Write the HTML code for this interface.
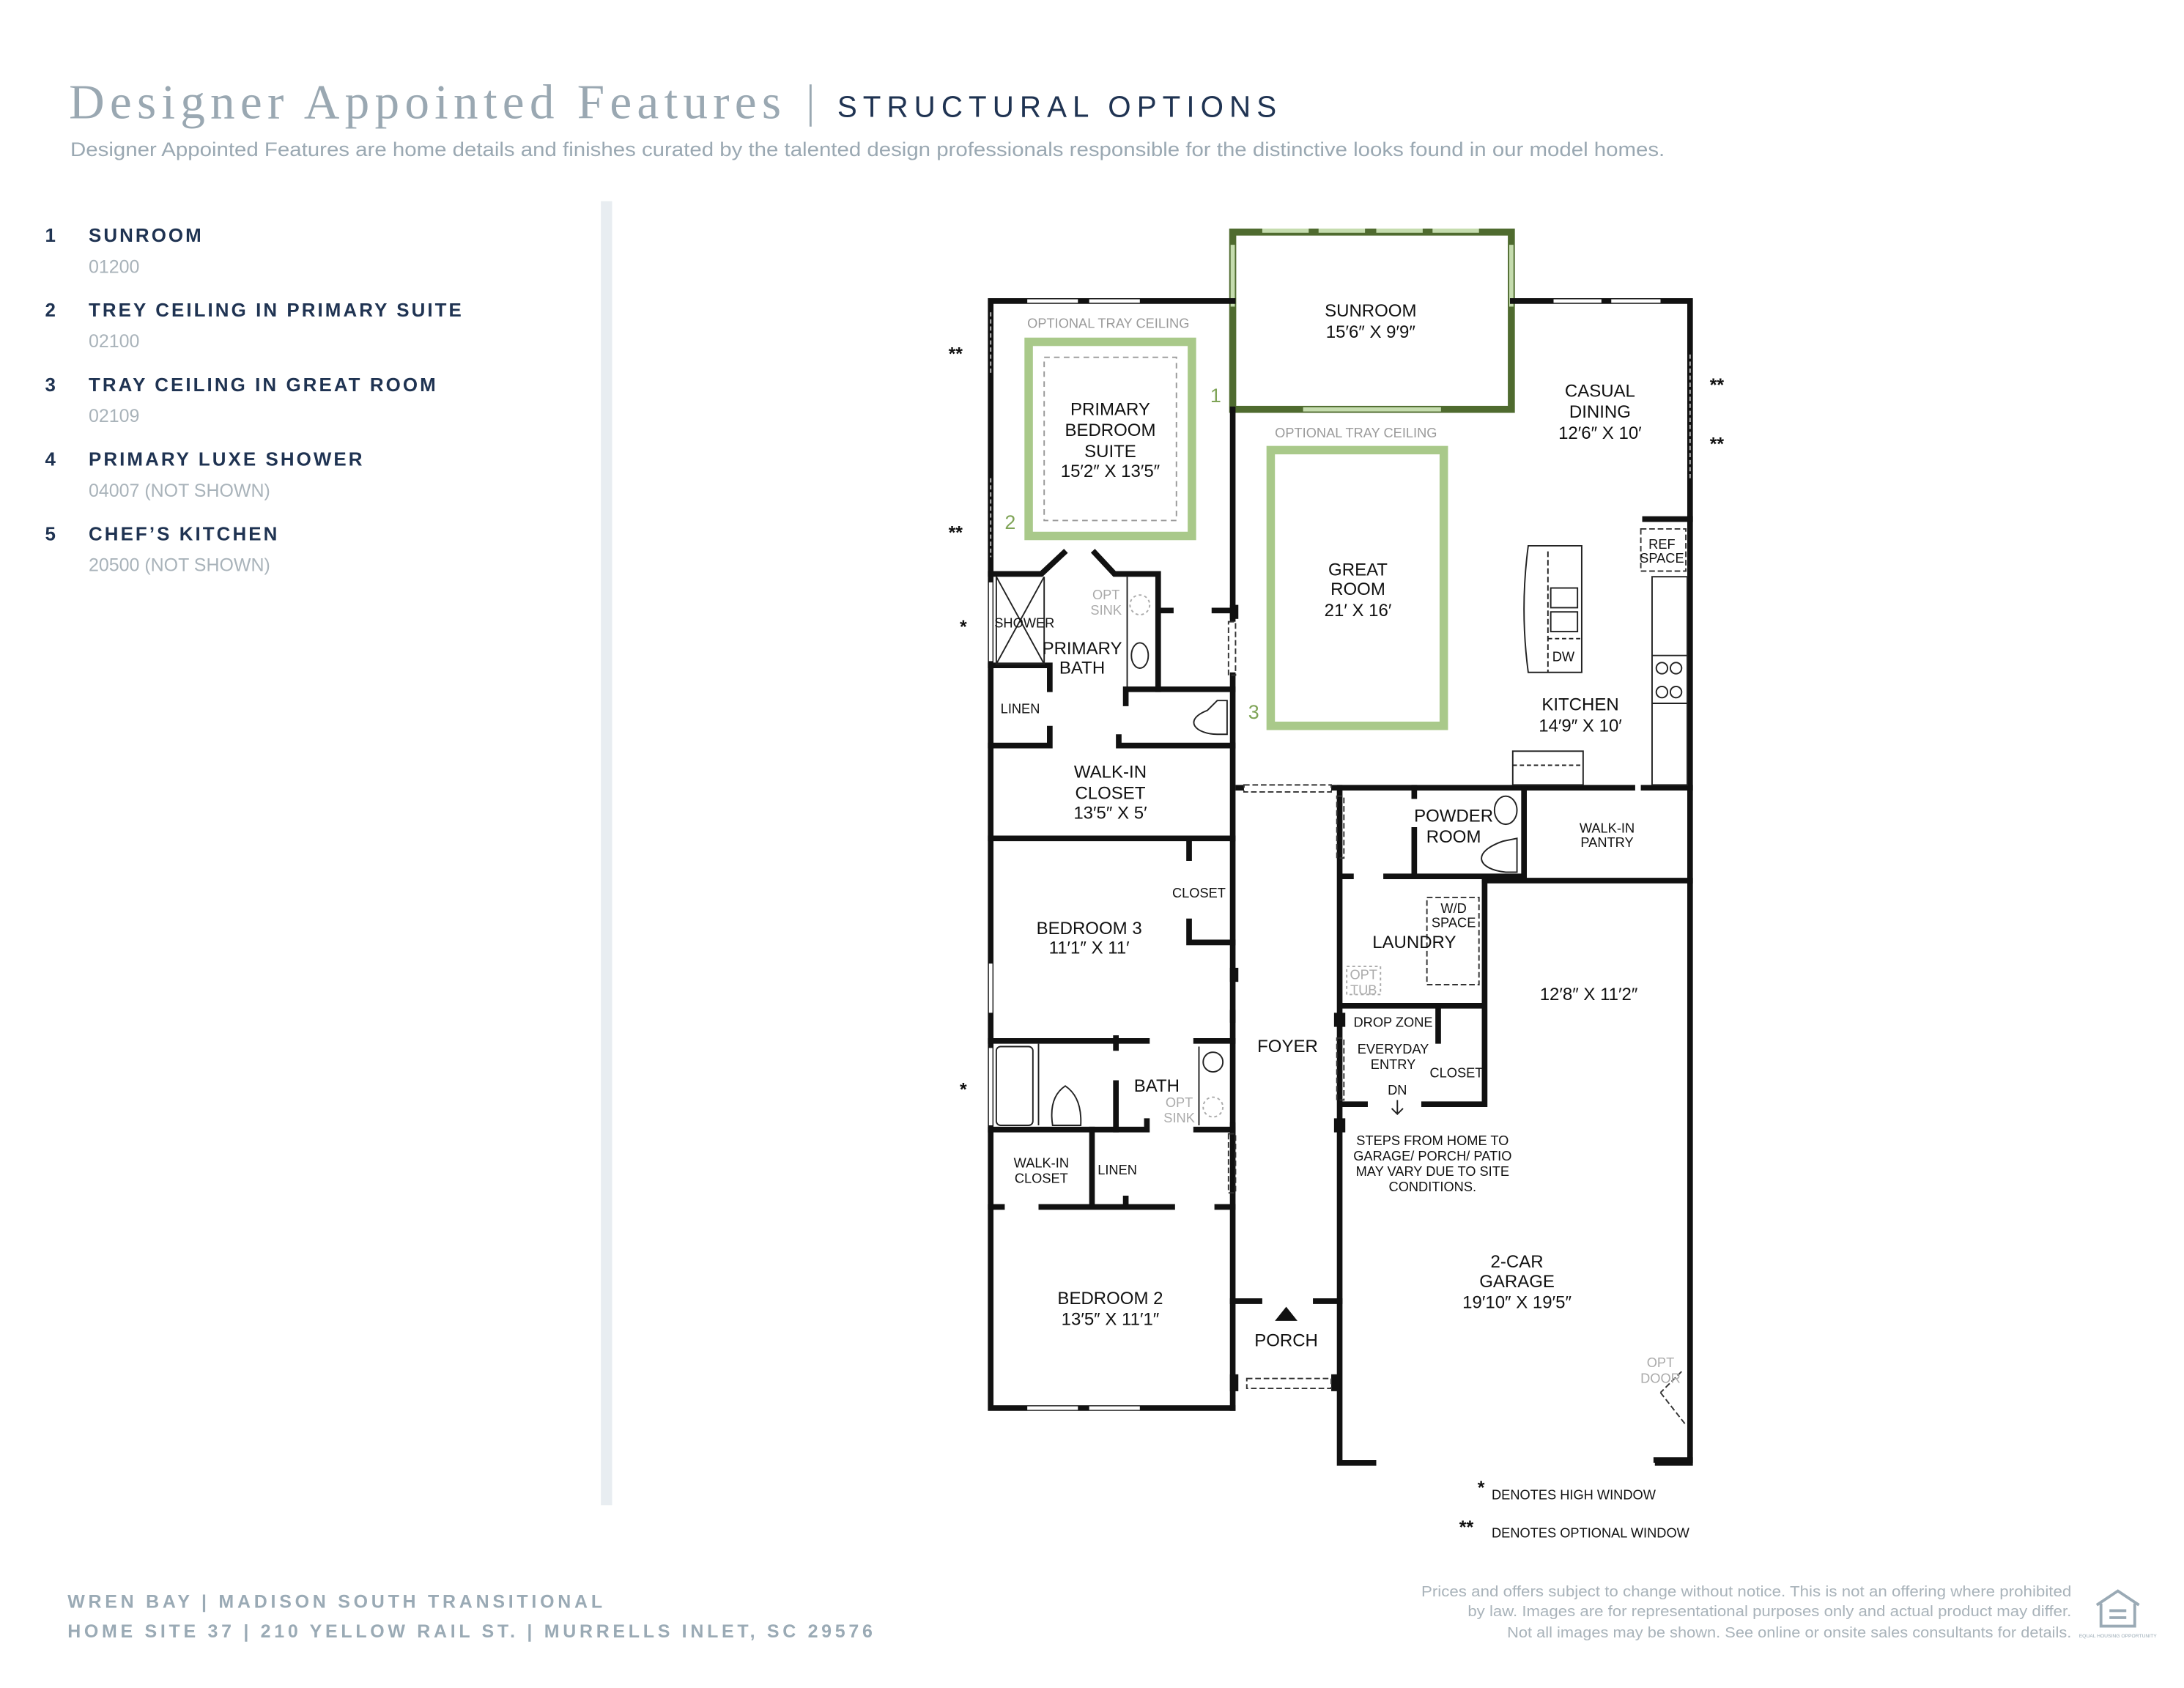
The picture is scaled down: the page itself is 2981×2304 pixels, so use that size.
<!DOCTYPE html>
<html><head><meta charset="utf-8"><style>
html,body{margin:0;padding:0;background:#fff;}
svg{display:block;}
</style></head><body>
<svg width="2981" height="2304" viewBox="0 0 1552 1200" preserveAspectRatio="none" xmlns="http://www.w3.org/2000/svg" font-family="Liberation Sans, sans-serif">
<rect width="1552" height="1200" fill="#fff"/>
<!-- header -->
<text x="49" y="84" font-family="Liberation Serif, serif" font-size="35" fill="#9aa8b2" textLength="506" lengthAdjust="spacing">Designer Appointed Features</text>
<line x1="576" y1="60" x2="576" y2="90" stroke="#9aa8b2" stroke-width="1.5"/>
<text x="595" y="83" font-size="21" fill="#1f3352" textLength="312" lengthAdjust="spacing">STRUCTURAL OPTIONS</text>
<text x="50" y="111" font-size="14.2" fill="#9aa8b2" textLength="1133" lengthAdjust="spacingAndGlyphs">Designer Appointed Features are home details and finishes curated by the talented design professionals responsible for the distinctive looks found in our model homes.</text>
<!-- list -->
<g font-weight="bold" font-size="13.5" fill="#1f3352" letter-spacing="1.6">
<text x="32" y="172">1</text><text x="63" y="172">SUNROOM</text>
<text x="32" y="225">2</text><text x="63" y="225">TREY CEILING IN PRIMARY SUITE</text>
<text x="32" y="278">3</text><text x="63" y="278">TRAY CEILING IN GREAT ROOM</text>
<text x="32" y="331">4</text><text x="63" y="331">PRIMARY LUXE SHOWER</text>
<text x="32" y="384">5</text><text x="63" y="384">CHEF’S KITCHEN</text>
</g>
<g font-size="13" fill="#a9b3ba">
<text x="63" y="194">01200</text><text x="63" y="247">02100</text><text x="63" y="300">02109</text>
<text x="63" y="353">04007 (NOT SHOWN)</text><text x="63" y="406">20500 (NOT SHOWN)</text>
</g>
<rect x="427" y="143" width="8" height="927" fill="#e8edf1"/>
<!-- footer -->
<g font-weight="bold" font-size="13" fill="#9aaab5">
<text x="48" y="1143" textLength="380" lengthAdjust="spacing">WREN BAY  |  MADISON SOUTH TRANSITIONAL</text>
<text x="48" y="1164" textLength="572" lengthAdjust="spacing">HOME SITE 37  |  210 YELLOW RAIL ST.  |  MURRELLS INLET, SC 29576</text>
</g>
<g font-size="10.5" fill="#a9b3ba">
<text x="1010" y="1135" textLength="462" lengthAdjust="spacingAndGlyphs">Prices and offers subject to change without notice. This is not an offering where prohibited</text>
<text x="1043" y="1149" textLength="429" lengthAdjust="spacingAndGlyphs">by law. Images are for representational purposes only and actual product may differ.</text>
<text x="1071" y="1164" textLength="401" lengthAdjust="spacingAndGlyphs">Not all images may be shown. See online or onsite sales consultants for details.</text>
</g>
<g fill="none" stroke="#9aaab5" stroke-width="2"><path d="M1490 1141 L1505 1131 L1520 1141 M1493 1140 V1156 H1517 V1140"/><path d="M1499 1145 H1511 M1499 1150 H1511"/></g>
<text x="1505" y="1164" font-size="3.5" fill="#9aaab5" text-anchor="middle">EQUAL HOUSING OPPORTUNITY</text>

<!-- tray ceilings (green) -->
<g fill="none">
<rect x="731" y="243" width="116" height="138" stroke="#a9c98a" stroke-width="6"/>
<rect x="903" y="320" width="123" height="196" stroke="#a9c98a" stroke-width="6"/>
<rect x="742" y="254" width="94" height="116" stroke="#999" stroke-width="1" stroke-dasharray="4,3"/>
</g>
<text x="730" y="233" font-size="9.5" fill="#9a9a9a">OPTIONAL TRAY CEILING</text>
<text x="906" y="311" font-size="9.5" fill="#9a9a9a">OPTIONAL TRAY CEILING</text>
<g font-size="14" fill="#7fa457"><text x="860" y="286">1</text><text x="714" y="376">2</text><text x="887" y="511">3</text></g>

<!-- sunroom -->
<rect x="876" y="165" width="198" height="126" fill="none" stroke="#4f6b2f" stroke-width="5"/>
<g stroke="#c5dcae" stroke-width="3"><line x1="897" y1="164" x2="930" y2="164"/><line x1="937" y1="164" x2="970" y2="164"/><line x1="978" y1="164" x2="1011" y2="164"/><line x1="1018" y1="164" x2="1051" y2="164"/>
<line x1="876" y1="174" x2="876" y2="218"/><line x1="1074" y1="174" x2="1074" y2="218"/><line x1="926" y1="291" x2="1024" y2="291"/></g>

<!-- walls -->
<g fill="none" stroke="#111" stroke-width="4" stroke-linecap="square">
<path d="M876 214 H704 V1001 H876"/>
<path d="M1075 214 H1201 V1040 H1178"/>
<path d="M876 291 V440 M876 480 V1001"/>
<path d="M952 560 V1040 H976"/>
<path d="M880 560 H882 M948 560 H1160 M1168 560 H1201"/>
<path d="M704 408 H740 L756 393 M778 393 L792 408 H823 V490 M823 434 H832 M863 434 H876"/>
<path d="M704 473 H746 V487 M746 488 V490"/>
<path d="M800 490 H876 M800 490 V500"/>
<path d="M704 530 H745 M746 518 V530 M795 530 H876 M795 524 V530"/>
<path d="M704 596 H876 M845 596 V610 M845 655 V670 H876"/>
<path d="M704 740 H815 M850 740 H876 M793 738 V745"/>
<path d="M793 770 V803"/>
<path d="M704 803 H815 M850 803 H876 M815 803 V797"/>
<path d="M704 858 H712 M740 858 H833 M865 858 H876 M776 803 V858 M800 858 V852"/>
<path d="M876 720 V725 M876 800 V806"/>
<path d="M876 925 H895 M935 925 H952"/>
<path d="M1005 560 V566 M1005 590 V623 H1083 M1083 560 V626 M1055 626 H1201 M985 623 H1005 M955 623 H960"/>
<path d="M1055 626 V715 H955 M1022 715 V740 M1055 715 V785 H1030 M955 785 H970 M1012 785 H1030"/>
<path d="M1169 369 H1201"/>
<path d="M1177 1038 H1201"/>
</g>
<g fill="#111"><rect x="874" y="977" width="6" height="12"/><rect x="946" y="977" width="6" height="12"/><rect x="948" y="720" width="8" height="10"/><rect x="948" y="795" width="8" height="10"/><rect x="874" y="430" width="6" height="10"/><rect x="874" y="688" width="6" height="10"/></g>
<!-- door/dashed openings -->
<g fill="none" stroke="#333" stroke-width="1" stroke-dasharray="4,2">
<rect x="884" y="558" width="62" height="5"/>
<rect x="886" y="980" width="60" height="7"/>
<rect x="873" y="442" width="5" height="38"/>
<rect x="873" y="806" width="5" height="42"/>
<rect x="950" y="566" width="5" height="44"/>
<rect x="950" y="738" width="5" height="44"/>
<rect x="1014" y="638" width="37" height="62"/>
<rect x="1166" y="376" width="32" height="30"/>
<path d="M1195 975 Q1185 985 1180 990 M1180 990 L1198 1013"/>
</g>
<!-- windows -->
<g stroke="#fff" stroke-width="2.5"><line x1="730" y1="214" x2="766" y2="214"/><line x1="774" y1="214" x2="810" y2="214"/><line x1="1104" y1="214" x2="1138" y2="214"/><line x1="1145" y1="214" x2="1180" y2="214"/><line x1="730" y1="1001" x2="766" y2="1001"/><line x1="774" y1="1001" x2="810" y2="1001"/><line x1="704" y1="685" x2="704" y2="720"/><line x1="704" y1="745" x2="704" y2="800"/><line x1="704" y1="414" x2="704" y2="470"/></g>
<g stroke="#bbb" stroke-width="1" stroke-dasharray="3,2" fill="none"><line x1="704" y1="222" x2="704" y2="266"/><line x1="704" y1="340" x2="704" y2="396"/><line x1="1201" y1="252" x2="1201" y2="340"/></g>
<!-- fixtures -->
<g fill="none" stroke="#222" stroke-width="1">
<path d="M708 410 V472 H742 V410 M708 410 L742 472 M742 410 L708 472"/>
<path d="M801 410 V488"/><circle cx="810" cy="430" r="7" stroke="#aaa" stroke-dasharray="2,2"/><ellipse cx="810" cy="466" rx="6" ry="9"/>
<path d="M872 498 V522 L865 522 C850 522 840 512 858 505 L865 498 Z"/>
<path d="M1086 388 H1124 V478 H1086 Q1080 433 1086 388 Z"/><rect x="1102" y="418" width="19" height="14"/><rect x="1102" y="435" width="19" height="14"/>
<path d="M1100 392 V478" stroke-dasharray="4,2"/><path d="M1100 454 H1124" stroke-dasharray="3,2"/>
<rect x="1174" y="410" width="25" height="148"/><path d="M1174 466 H1199 M1174 500 H1199"/><circle cx="1181" cy="475" r="4"/><circle cx="1191" cy="475" r="4"/><circle cx="1181" cy="492" r="4"/><circle cx="1191" cy="492" r="4"/>
<rect x="1075" y="534" width="50" height="24"/><path d="M1075 544 H1125" stroke-dasharray="3,2"/>
<ellipse cx="1070" cy="576" rx="8" ry="10"/><path d="M1078 596 V620 H1070 C1050 618 1045 606 1068 598 Z"/>
<rect x="708" y="744" width="26" height="56" rx="3"/><path d="M738 742 V800"/><path d="M748 800 Q745 780 757 772 Q769 780 768 800 Z"/>
<path d="M852 744 V800"/><circle cx="862" cy="755" r="7"/><circle cx="862" cy="787" r="7" stroke="#aaa" stroke-dasharray="2,2"/>
<rect x="957" y="687" width="24" height="20" stroke="#aaa" stroke-dasharray="2,2"/>
<path d="M993 782 V792 M989 788 L993 792 L997 788"/>
</g>
<path d="M906 939 L914 929 L922 939 Z" fill="#111"/>
<!-- room labels -->
<g font-size="12.5" fill="#111" text-anchor="middle">
<text x="974" y="225">SUNROOM</text><text x="974" y="240">15′6″ X 9′9″</text>
<text x="1137" y="282">CASUAL</text><text x="1137" y="297">DINING</text><text x="1137" y="312">12′6″ X 10′</text>
<text x="789" y="295">PRIMARY</text><text x="789" y="310">BEDROOM</text><text x="789" y="325">SUITE</text><text x="789" y="339">15′2″ X 13′5″</text>
<text x="965" y="409">GREAT</text><text x="965" y="423">ROOM</text><text x="965" y="438">21′ X 16′</text>
<text x="769" y="465">PRIMARY</text><text x="769" y="479">BATH</text>
<text x="1123" y="505">KITCHEN</text><text x="1123" y="520">14′9″ X 10′</text>
<text x="789" y="553">WALK-IN</text><text x="789" y="568">CLOSET</text><text x="789" y="582">13′5″ X 5′</text>
<text x="1033" y="584">POWDER</text><text x="1033" y="599">ROOM</text>
<text x="774" y="664">BEDROOM 3</text><text x="774" y="678">11′1″ X 11′</text>
<text x="1005" y="674">LAUNDRY</text>
<text x="1129" y="711">12′8″ X 11′2″</text>
<text x="915" y="748">FOYER</text>
<text x="822" y="776">BATH</text>
<text x="1078" y="901">2-CAR</text><text x="1078" y="915">GARAGE</text><text x="1078" y="930">19′10″ X 19′5″</text>
<text x="789" y="927">BEDROOM 2</text><text x="789" y="942">13′5″ X 11′1″</text>
<text x="914" y="957">PORCH</text>
</g>
<g font-size="9.5" fill="#111" text-anchor="middle">
<text x="728" y="446">SHOWER</text><text x="725" y="507">LINEN</text><text x="852" y="638">CLOSET</text>
<text x="1142" y="592">WALK-IN</text><text x="1142" y="602">PANTRY</text>
<text x="1181" y="390">REF</text><text x="1181" y="400">SPACE</text><text x="1111" y="470">DW</text>
<text x="1033" y="649">W/D</text><text x="1033" y="659">SPACE</text>
<text x="990" y="730">DROP ZONE</text><text x="990" y="749">EVERYDAY</text><text x="990" y="760">ENTRY</text><text x="1035" y="766">CLOSET</text><text x="993" y="778">DN</text>
<text x="740" y="830">WALK-IN</text><text x="740" y="841">CLOSET</text><text x="794" y="835">LINEN</text>
<text x="1018" y="814">STEPS FROM HOME TO</text><text x="1018" y="825">GARAGE/ PORCH/ PATIO</text><text x="1018" y="836">MAY VARY DUE TO SITE</text><text x="1018" y="847">CONDITIONS.</text>
</g>
<g font-size="9.5" fill="#aaa" text-anchor="middle">
<text x="786" y="426">OPT</text><text x="786" y="437">SINK</text><text x="838" y="787">OPT</text><text x="838" y="798">SINK</text>
<text x="969" y="696">OPT</text><text x="969" y="707">TUB</text><text x="1180" y="972">OPT</text><text x="1180" y="983">DOOR</text>
</g>
<g font-size="13" fill="#111" font-weight="bold">
<text x="674" y="256">**</text><text x="674" y="383">**</text><text x="682" y="450">*</text><text x="682" y="779">*</text>
<text x="1215" y="278">**</text><text x="1215" y="320">**</text>
<text x="1050" y="1062">*</text><text x="1037" y="1090">**</text>
</g>
<g font-size="9.5" fill="#111"><text x="1060" y="1066">DENOTES HIGH WINDOW</text><text x="1060" y="1093">DENOTES OPTIONAL WINDOW</text></g>
</svg>
</body></html>
